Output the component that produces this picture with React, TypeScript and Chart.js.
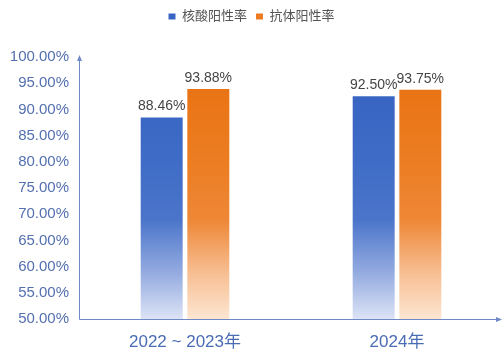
import React, { useEffect, useRef } from "react";
import { Chart, registerables } from "chart.js";

Chart.register(...registerables);

const categories = ["2022 ~ 2023年", "2024年"];
const seriesNames = ["核酸阳性率", "抗体阳性率"];
const nucleicValues = [88.46, 92.5];
const antibodyValues = [93.88, 93.75];
const yMin = 50;
const yMax = 100;
const yStep = 5;

const FONT = "'Liberation Sans', 'Noto Sans CJK SC', sans-serif";
const AXIS_COLOR = "#6f88c6";

function makeGradient(chart: any, stops: [number, string][], fallback: string) {
  const area = chart.chartArea;
  if (!area) return fallback;
  const g = chart.ctx.createLinearGradient(0, area.bottom, 0, area.top);
  stops.forEach(([o, c]) => g.addColorStop(o, c));
  return g;
}

const blueStops: [number, string][] = [
  [0, "#dce3f5"],
  [0.18, "#93aae0"],
  [0.38, "#4b75ca"],
  [0.6, "#3f6cc6"],
  [1, "#3461c1"],
];
const orangeStops: [number, string][] = [
  [0, "#fde6d2"],
  [0.18, "#f7bd90"],
  [0.38, "#ee8736"],
  [0.6, "#ec7d22"],
  [1, "#e8700f"],
];

const axesPlugin = {
  id: "axesArrows",
  afterDraw(chart: any) {
    const { ctx, chartArea } = chart;
    const x0 = chartArea.left;
    const yb = chartArea.bottom;
    const yt = chartArea.top;
    const xr = 499;
    ctx.save();
    ctx.strokeStyle = AXIS_COLOR;
    ctx.fillStyle = AXIS_COLOR;
    ctx.lineWidth = 1;
    ctx.beginPath();
    ctx.moveTo(x0 + 0.5, yt);
    ctx.lineTo(x0 + 0.5, yb + 0.5);
    ctx.lineTo(xr, yb + 0.5);
    ctx.stroke();
    ctx.beginPath();
    ctx.moveTo(x0 + 0.5, yt - 2);
    ctx.lineTo(x0 - 2, yt + 4);
    ctx.lineTo(x0 + 3, yt + 4);
    ctx.closePath();
    ctx.fill();
    ctx.beginPath();
    ctx.moveTo(xr + 3, yb + 0.5);
    ctx.lineTo(xr - 3, yb - 2);
    ctx.lineTo(xr - 3, yb + 3);
    ctx.closePath();
    ctx.fill();
    ctx.restore();
  },
};

const labelsPlugin = {
  id: "barLabels",
  afterDatasetsDraw(chart: any) {
    const { ctx } = chart;
    ctx.save();
    ctx.font = `14px ${FONT}`;
    ctx.fillStyle = "#454545";
    ctx.textAlign = "center";
    ctx.textBaseline = "bottom";
    chart.data.datasets.forEach((ds: any, i: number) => {
      const meta = chart.getDatasetMeta(i);
      meta.data.forEach((bar: any, j: number) => {
        const v = ds.data[j] as number;
        ctx.fillText(v.toFixed(2) + "%", bar.x, bar.y - 4);
      });
    });
    ctx.restore();
  },
};

const legendSpacer = {
  id: "legendSpacer",
  beforeInit(chart: any) {
    const legend = chart.legend;
    if (!legend) return;
    const orig = legend.fit;
    legend.fit = function () {
      orig.call(this);
      this.height += 24;
    };
  },
};

export default function App() {
  const ref = useRef<HTMLCanvasElement>(null);
  useEffect(() => {
    if (!ref.current) return;
    const chart = new Chart(ref.current, {
      type: "bar",
      data: {
        labels: categories,
        datasets: [
          {
            label: seriesNames[0],
            data: nucleicValues,
            backgroundColor: (c: any) => makeGradient(c.chart, blueStops, "#3461c1"),
            barPercentage: 0.9,
            categoryPercentage: 0.44,
          },
          {
            label: seriesNames[1],
            data: antibodyValues,
            backgroundColor: (c: any) => makeGradient(c.chart, orangeStops, "#e8700f"),
            barPercentage: 0.9,
            categoryPercentage: 0.44,
          },
        ],
      },
      options: {
        responsive: false,
        animation: false,
        layout: { padding: { left: 0, right: 0, top: 1, bottom: 0 } },
        plugins: {
          tooltip: { enabled: false },
          legend: {
            position: "top",
            labels: {
              boxWidth: 7,
              boxHeight: 6,
              padding: 9,
              color: "#555555",
              font: { size: 13, family: FONT },
              generateLabels: (chart: any) => {
                const cols = ["#3a64c4", "#ec7a22"];
                return chart.data.datasets.map((ds: any, i: number) => ({
                  text: ds.label,
                  fillStyle: cols[i],
                  strokeStyle: cols[i],
                  lineWidth: 0,
                  hidden: false,
                  datasetIndex: i,
                  fontColor: "#555555",
                }));
              },
            },
          },
        },
        scales: {
          x: {
            grid: { display: false, drawTicks: false },
            border: { display: false },
            ticks: {
              color: "#4a6cb5",
              font: { size: 17, family: FONT },
              padding: 13,
            },
            afterFit: (s: any) => {
              s.height = 37;
            },
          },
          y: {
            min: yMin,
            max: yMax,
            grid: { display: false, drawTicks: false },
            border: { display: false },
            ticks: {
              stepSize: yStep,
              color: "#5470b0",
              font: { size: 15, family: FONT },
              padding: 10,
              callback: (v: any) => Number(v).toFixed(2) + "%",
            },
            afterFit: (s: any) => {
              s.width = 79;
            },
          },
        },
      },
      plugins: [legendSpacer, axesPlugin, labelsPlugin],
    });
    return () => chart.destroy();
  }, []);
  return (
    <div style={{ position: "absolute", left: 0, top: 0, width: 503, height: 356, background: "#fff" }}>
      <canvas ref={ref} width={503} height={356} />
    </div>
  );
}
